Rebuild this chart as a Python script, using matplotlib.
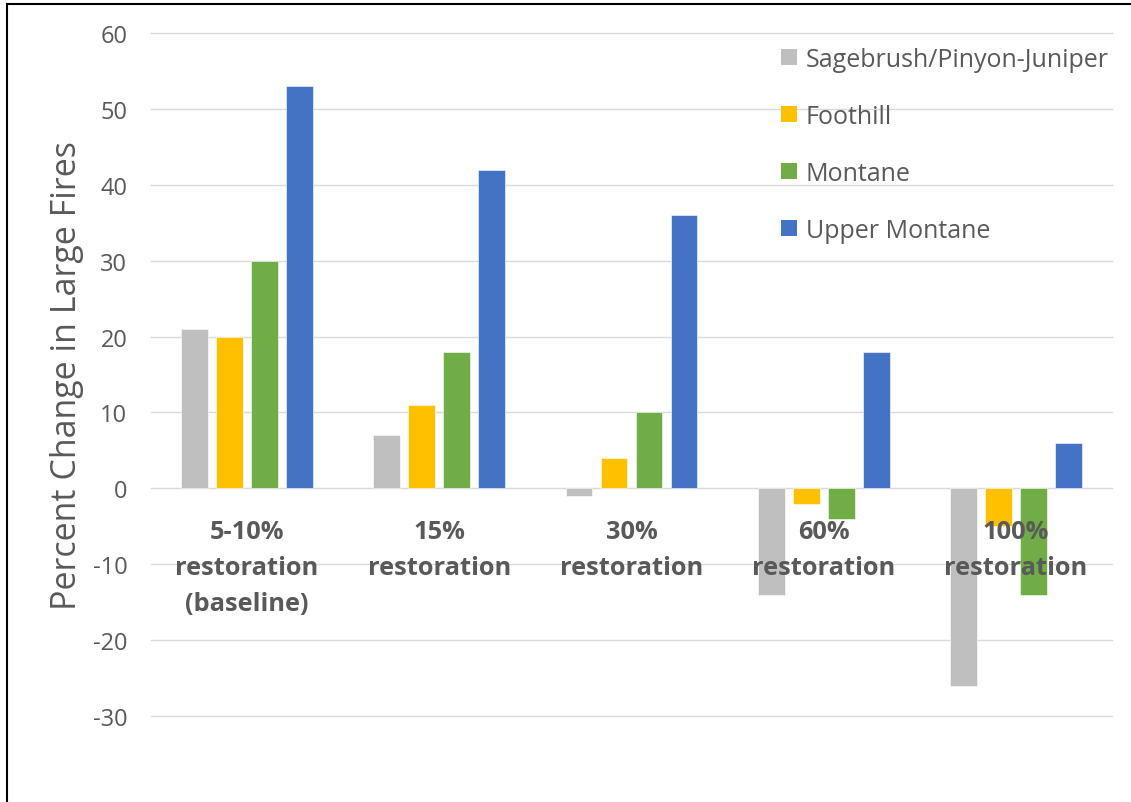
import matplotlib
matplotlib.use("Agg")
import matplotlib.pyplot as plt
from matplotlib.patches import Patch
from matplotlib.lines import Line2D
import numpy as np

categories = ["5-10%\nrestoration\n(baseline)", "15%\nrestoration", "30%\nrestoration",
              "60%\nrestoration", "100%\nrestoration"]
series_names = ["Sagebrush/Pinyon-Juniper", "Foothill", "Montane", "Upper Montane"]
sagebrush = [21, 7, -1, -14, -26]
foothill = [20, 11, 4, -2, -5]
montane = [30, 18, 10, -4, -14]
upper_montane = [53, 42, 36, 18, 6]
y_ticks = [-30, -20, -10, 0, 10, 20, 30, 40, 50, 60]

colors = ["#BFBFBF", "#FFC000", "#70AD47", "#4472C4"]
text_color = "#595959"
grid_color = "#D9D9D9"

plt.rcParams["font.family"] = ["Open Sans", "DejaVu Sans"]

W, H = 1131, 803
fig = plt.figure(figsize=(W / 100, H / 100), dpi=100)
ax = fig.add_axes([151 / W, 1 - 717 / H, (1112 - 151) / W, (717 - 34) / H])

x = np.arange(len(categories))
pitch = 0.182
width = 0.14
for k, (vals, c) in enumerate(zip([sagebrush, foothill, montane, upper_montane], colors)):
    ax.bar(x + (k - 1.5) * pitch, vals, width=width, color=c, zorder=2,
           edgecolor="white", linewidth=0.4)

ax.set_xlim(-0.5, len(categories) - 0.5)
ax.set_ylim(-30, 60)
ax.set_yticks(y_ticks)
ax.set_yticklabels([str(t) for t in y_ticks], fontsize=17, color=text_color)
ax.tick_params(axis="y", length=0, pad=17)
ax.set_xticks([])
ax.grid(axis="y", color=grid_color, linewidth=1.0, zorder=0)
for gl in ax.get_ygridlines():
    gl.set_clip_on(False)
ax.set_axisbelow(True)
for s in ax.spines.values():
    s.set_visible(False)

for i, lab in enumerate(categories):
    ax.annotate(lab, xy=(i, 0), xytext=(0, -31), textcoords="offset pixels",
                ha="center", va="top", fontsize=18.3, fontweight="bold",
                color=text_color, linespacing=1.57, zorder=5)

ax.set_ylabel("Percent Change in Large Fires", fontsize=24.5, color=text_color, labelpad=6)

handles = [Patch(facecolor=c, edgecolor="none") for c in colors]
leg = ax.legend(handles, series_names, loc="upper left",
                bbox_to_anchor=(781 / W, 1 - 48 / H), bbox_transform=fig.transFigure,
                frameon=False, fontsize=18, labelcolor=text_color,
                handlelength=0.64, handleheight=0.64, handletextpad=0.36,
                labelspacing=1.28, borderpad=0, borderaxespad=0)

# chart frame
fig.add_artist(Line2D([7 / W, 7 / W], [0, 1 - 5 / H], color="black", linewidth=1.5,
                      transform=fig.transFigure))
fig.add_artist(Line2D([7 / W, 1], [1 - 5 / H, 1 - 5 / H], color="black", linewidth=1.5,
                      transform=fig.transFigure))

fig.savefig("out.png", dpi=100, facecolor="white")
